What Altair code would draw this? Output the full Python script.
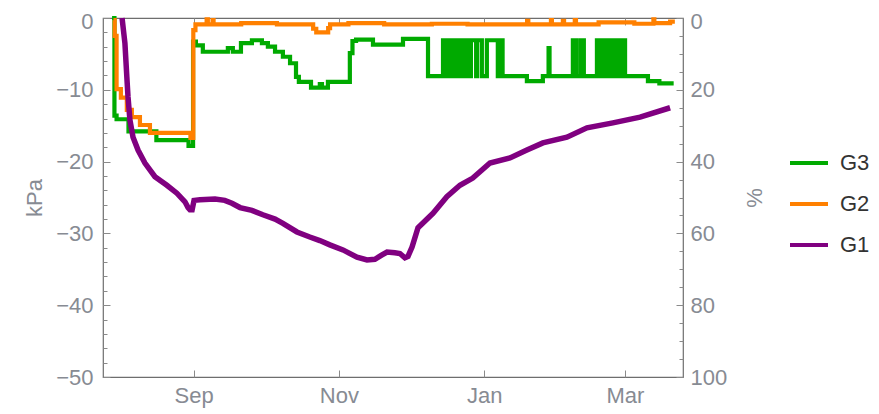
import altair as alt
import pandas as pd

# ---------------- data (days after 1 Sep, value in kPa) ----------------
g3_days = [-34.2, -33.2, -32.3, -27.3, -15.6, -2.1, -0.2, 1.0, 3.9, 14.4, 16.5, 19.9, 24.5,
           28.7, 31.2, 34.2, 37.5, 40.5, 43.0, 44.2, 49.3, 53.0, 53.9, 56.4, 65.6, 66.7,
           68.2, 75.3, 87.9, 98.4,
           104.7, 105.3, 105.9, 106.6, 107.2, 108.0, 108.5, 109.0, 109.5, 110.0, 110.5,
           111.0, 111.5, 112.0, 112.5, 113.0, 113.5, 114.0, 114.5, 115.0, 115.5, 116.0,
           116.4, 118.6, 119.0, 121.0, 123.1, 127.7, 128.1, 128.6, 129.0, 129.7, 139.9,
           146.6, 149.0, 149.4, 159.2, 160.6, 162.4, 163.8,
           169.3, 169.9, 170.5, 171.1, 171.7, 172.3, 172.9, 173.5, 174.1, 174.7, 175.3,
           175.9, 176.5, 177.1, 177.7, 178.3, 178.9, 179.5, 180.1, 181.1, 190.7, 195.5,
           201.5]
g3_vals = [0.0, -13.6, -14.1, -15.8, -17.0, -17.8, -3.3, -3.8, -4.7, -4.2, -4.7, -3.5, -3.1,
           -3.5, -4.0, -4.7, -5.4, -6.3, -8.2, -8.9, -9.7, -9.2, -9.7, -8.9, -4.9, -3.2,
           -3.0, -3.7, -2.9, -8.1,
           -3.1, -8.1, -3.1, -8.1, -3.1, -8.1, -3.1, -8.1, -3.1, -8.1, -3.1,
           -8.1, -3.1, -8.1, -3.1, -8.1, -3.1, -8.1, -3.1, -8.1, -3.1, -8.1,
           -3.1, -8.1, -3.1, -8.1, -3.1, -8.1, -3.1, -8.1, -3.1, -8.1, -8.8,
           -8.1, -4.2, -8.1, -3.1, -8.1, -3.1, -8.1,
           -3.1, -8.1, -3.1, -8.1, -3.1, -8.1, -3.1, -8.1, -3.1, -8.1, -3.1,
           -8.1, -3.1, -8.1, -3.1, -8.1, -3.1, -8.1, -3.1, -8.1, -8.8, -9.1,
           -9.1]

g2_days = [-33.6, -33.1, -32.3, -30.5, -28.0, -25.9, -22.5, -18.3, -1.3, -0.1, 0.8, 5.5, 6.0,
           8.0, 8.4, 20.0, 35.0, 50.2, 51.5, 56.5, 57.3, 65.0, 80.0, 100.0, 115.0, 140.0,
           140.5, 150.0, 150.4, 155.0, 155.5, 160.0, 160.5, 170.0, 185.0, 193.0, 193.4,
           200.0, 202.0]
g2_vals = [-0.3, -2.5, -9.9, -11.1, -12.8, -13.8, -14.9, -16.0, -16.7, -1.7, -0.9, -0.2, -0.9,
           -0.3, -0.9, -0.7, -0.9, -1.5, -2.0, -1.4, -0.9, -0.7, -0.9, -0.8, -0.9, -0.4,
           -0.9, -0.3, -0.9, -0.4, -0.9, -0.3, -0.9, -0.6, -0.8, -0.2, -0.7,
           -0.5, -0.5]

g1_days = [-30.0, -28.8, -28.0, -27.5, -26.7, -25.4, -23.3, -20.4, -16.2, -11.2, -7.0, -3.6,
           -2.3, -1.5, -0.6, 0.2, 2.7, 9.0, 13.1, 16.1, 19.5, 24.5, 29.1, 34.2, 37.5, 43.4,
           48.8, 53.0, 57.2, 62.7, 68.6, 72.8, 76.1, 79.1, 81.2, 84.5, 86.6, 88.7, 90.0,
           91.7, 94.2, 100.5, 106.3, 111.8, 117.2, 124.4, 132.8, 139.9, 146.6, 156.7,
           165.1, 176.0, 187.4, 200.0]
g1_vals = [0.0, -3.5, -8.2, -11.0, -14.2, -16.6, -18.4, -20.2, -22.1, -23.3, -24.4, -25.6,
           -26.4, -26.7, -26.7, -25.4, -25.3, -25.2, -25.4, -25.8, -26.4, -26.8, -27.4, -28.0,
           -28.6, -29.8, -30.5, -31.0, -31.6, -32.3, -33.3, -33.7, -33.6, -33.0, -32.6, -32.7,
           -32.8, -33.4, -33.2, -31.9, -29.2, -27.2, -24.9, -23.3, -22.3, -20.2, -19.5, -18.4,
           -17.4, -16.6, -15.3, -14.6, -13.8, -12.5]

series_names = ["G3", "G2", "G1"]
series_colors = ["#00aa00", "#ff8000", "#800080"]

kpa_major = [-50, -40, -30, -20, -10, 0]
kpa_minor = list(range(-50, 1, 2))
pct_major = [0, 20, 40, 60, 80, 100]
pct_minor = list(range(0, 101, 5))
month_ticks = ["2016-09-01T00:00:00", "2016-11-01T00:00:00",
               "2017-01-01T00:00:00", "2017-03-01T00:00:00"]

# ---------------- build tables ----------------
base = pd.Timestamp("2016-09-01")


def make_df(days, vals, name):
    return pd.DataFrame({
        "date": [(base + pd.Timedelta(days=d)).strftime("%Y-%m-%dT%H:%M:%S") for d in days],
        "kpa": vals,
        "series": name,
    })


df3 = make_df(g3_days, g3_vals, "G3")
df2 = make_df(g2_days, g2_vals, "G2")
df1 = make_df(g1_days, g1_vals, "G1")

x_domain = [alt.DateTime(year=2016, month=7, date=25),
            alt.DateTime(year=2017, month=3, date=25, hours=10)]
month_dt = [alt.DateTime(year=2016, month=9, date=1), alt.DateTime(year=2016, month=11, date=1),
            alt.DateTime(year=2017, month=1, date=1), alt.DateTime(year=2017, month=3, date=1)]

FONT = "Liberation Sans"
GRAY = "#878b93"
TICK = "#8a8a8a"
FS = 22
top_label_shift = {"condition": {"test": "datum.value === 0", "value": 3}, "value": 0}

x_scale = alt.Scale(domain=x_domain)
y_scale = alt.Scale(domain=[-50, 0], nice=False, zero=False)

x_enc = alt.X("date:T", scale=x_scale,
              axis=alt.Axis(orient="bottom", values=month_dt, format="%b", offset=-7,
                            tickSize=7, domain=False, grid=False, title=None,
                            labelPadding=8))
y_enc = alt.Y("kpa:Q", scale=y_scale,
              axis=alt.Axis(orient="left", values=kpa_major, offset=-7, tickSize=7,
                            domain=False, grid=False, title="kPa", labelPadding=10,
                            titlePadding=9, labelOffset=top_label_shift))
color_enc = alt.Color("series:N",
                      scale=alt.Scale(domain=series_names, range=series_colors),
                      legend=alt.Legend(orient="none", legendX=685, legendY=124, title=None,
                                        symbolType="stroke", symbolSize=1444,
                                        symbolStrokeWidth=4, labelFontSize=22,
                                        labelFont=FONT, labelColor="#333333",
                                        labelOffset=10, rowPadding=9, padding=0))

l3 = alt.Chart(df3).mark_line(strokeWidth=4.2, interpolate="step-after").encode(
    x=x_enc, y=y_enc, color=color_enc)
l2 = alt.Chart(df2).mark_line(strokeWidth=4.2, interpolate="step-after").encode(
    x=x_enc, y=y_enc, color=color_enc)
l1 = alt.Chart(df1).mark_line(strokeWidth=5.5).encode(
    x=x_enc, y=y_enc, color=color_enc)
lines = alt.layer(l3, l2, l1)

minor_left = alt.Chart(pd.DataFrame({"v": kpa_minor})).mark_point(opacity=0).encode(
    y=alt.Y("v:Q", scale=alt.Scale(domain=[-50, 0], nice=False, zero=False),
            axis=alt.Axis(orient="left", values=kpa_minor, labels=False, offset=-4,
                          tickSize=4, domain=False, grid=False, title=None)))

right_major = alt.Chart(pd.DataFrame({"p": pct_major})).mark_point(opacity=0).encode(
    y=alt.Y("p:Q", scale=alt.Scale(domain=[0, 100], reverse=True, nice=False),
            axis=alt.Axis(orient="right", values=pct_major, offset=-7, tickSize=7,
                          domain=False, grid=False, title="%", labelPadding=7,
                          titlePadding=18, titleAngle=270, titleBaseline="top",
                          labelOffset=top_label_shift)))

right_minor = alt.Chart(pd.DataFrame({"p": pct_minor})).mark_point(opacity=0).encode(
    y=alt.Y("p:Q", scale=alt.Scale(domain=[0, 100], reverse=True, nice=False),
            axis=alt.Axis(orient="right", values=pct_minor, labels=False, offset=-4,
                          tickSize=4, domain=False, grid=False, title=None)))

top_axis = alt.Chart(pd.DataFrame({"d": month_ticks})).mark_point(opacity=0).encode(
    x=alt.X("d:T", scale=alt.Scale(domain=x_domain),
            axis=alt.Axis(orient="top", values=month_dt, labels=False, offset=-7,
                          tickSize=7, domain=False, grid=False, title=None)))

chart = alt.layer(lines, minor_left, right_major, right_minor, top_axis).resolve_scale(
    x="independent", y="independent"
).properties(
    width=580, height=359,
    autosize=alt.AutoSizeParams(type="none"),
    padding={"left": 95, "top": 10, "right": 188, "bottom": 31},
).configure_view(
    stroke="#6e6e6e", strokeWidth=1.2
).configure_axis(
    labelFont=FONT, labelFontSize=FS, labelColor=GRAY,
    titleFont=FONT, titleFontSize=FS, titleColor=GRAY, titleFontWeight="normal",
    tickColor=TICK, tickWidth=1
)

chart.save("out.html", embed_options={"renderer": "svg", "actions": False})
